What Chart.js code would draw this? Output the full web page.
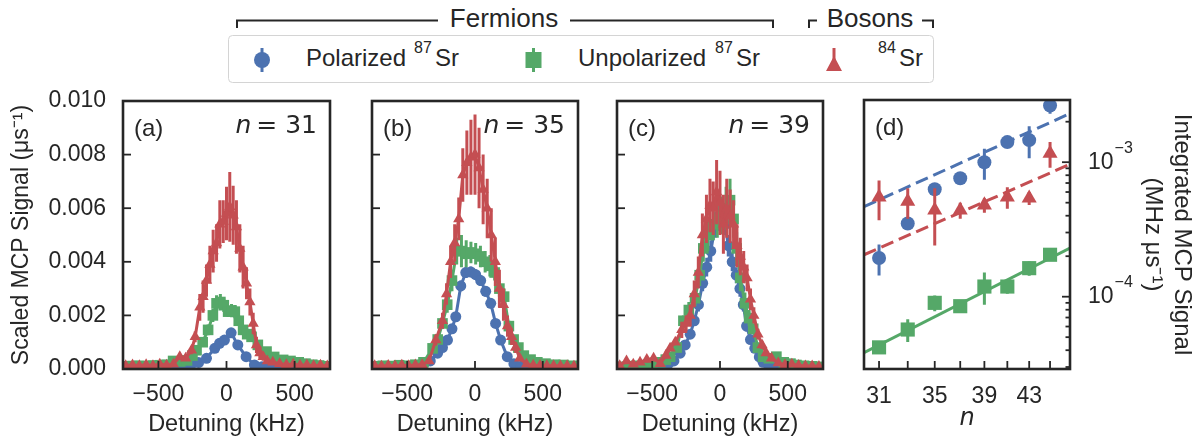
<!DOCTYPE html>
<html lang="en">
<head>
<meta charset="UTF-8" />
<title>MCP signal vs detuning and n</title>
<script src="https://cdn.jsdelivr.net/npm/chart.js"></script>
<style>
  body { margin: 0; background: #fff; font-family: 'Liberation Sans', Arial, sans-serif; color: #262626; }
  #fig { position: relative; width: 1196px; height: 440px; overflow: hidden; }
  #fig canvas, #fig svg { position: absolute; }
</style>
</head>
<body>
<div id="fig">
  <svg id="legend" width="1196" height="90" style="left:0;top:0" font-family="'Liberation Sans', Arial, sans-serif" fill="#262626">
    <path d="M237 28V20.5H438M570 20.5H773V28M809 28V20.5H817M922 20.5H933V28" stroke="#262626" stroke-width="2" fill="none"/>
    <text x="504" y="27" font-size="26" text-anchor="middle">Fermions</text>
    <text x="870" y="27" font-size="26" text-anchor="middle">Bosons</text>
    <rect x="228.5" y="35.5" width="705" height="47" rx="4" fill="#fff" stroke="#d4d4d4"/>
    <line x1="262" y1="48" x2="262" y2="72" stroke="#4c72b0" stroke-width="3"/>
    <circle cx="262" cy="60" r="8" fill="#4c72b0"/>
    <text font-size="24" y="66"><tspan x="306">Polarized</tspan><tspan x="414" y="53" font-size="16">87</tspan><tspan x="435" y="66">Sr</tspan></text>
    <line x1="533.5" y1="48" x2="533.5" y2="72" stroke="#55a868" stroke-width="3"/>
    <rect x="525.5" y="52" width="16" height="16" fill="#55a868"/>
    <text font-size="24" y="66"><tspan x="578">Unpolarized</tspan><tspan x="715" y="53" font-size="16">87</tspan><tspan x="736" y="66">Sr</tspan></text>
    <line x1="834" y1="48" x2="834" y2="71" stroke="#c44e52" stroke-width="3"/>
    <polygon points="834,56 842,71 826,71" fill="#c44e52"/>
    <text font-size="24" y="66"><tspan x="878" y="53" font-size="16">84</tspan><tspan x="899" y="66">Sr</tspan></text>
  </svg>
  <canvas id="panelA" width="340" height="350" style="left:0;top:90px"></canvas>
  <canvas id="panelB" width="245" height="350" style="left:345px;top:90px"></canvas>
  <canvas id="panelC" width="245" height="350" style="left:590px;top:90px"></canvas>
  <canvas id="panelD" width="356" height="350" style="left:840px;top:90px"></canvas>
</div>

<script>
  // ---- axes ----
  const X_MIN = -760, X_MAX = 760;
  const X_TICKS = [-500, 0, 500];
  const Y_TICKS = [0, 0.002, 0.004, 0.006, 0.008, 0.010];
  const D_N_TICKS = [31, 33, 35, 37, 39, 41, 43, 45];
  const D_N_LABELED = [31, 35, 39, 43];
  const D_Y_MAJOR = [1e-4, 1e-3];
  const D_Y_MINOR = [3e-5, 4e-5, 5e-5, 6e-5, 7e-5, 8e-5, 9e-5, 2e-4, 3e-4, 4e-4, 5e-4, 6e-4, 7e-4, 8e-4, 9e-4, 2e-3];

  // ---- (a) n = 31 ----
  const A_BLUE_X = [-740,-680,-620,-560,-500,-440,-380,-320,-260,-205,-147,-86,-51,-15,34,83,144,205,260,320,380,440,500,560,620,680,740];
  const A_BLUE_Y = [0.00004,0.00004,0.00005,0.00005,0.00006,0.00006,0.00008,0.0001,0.00015,0.00024,0.0004,0.00077,0.00096,0.00108,0.00135,0.0009,0.00046,0.00015,0.00008,0.00006,0.00005,0.00005,0.00004,0.00004,0.00004,0.00003,0.00003];
  const A_BLUE_E = [0.00003,0.00003,0.00003,0.00003,0.00003,0.00003,0.00003,0.00004,0.00005,0.00006,0.00008,0.0001,0.00012,0.00012,0.00014,0.00012,0.0001,0.00006,0.00004,0.00003,0.00003,0.00003,0.00003,0.00003,0.00003,0.00003,0.00003];

  const A_GREEN_X = [-740,-690,-640,-590,-540,-490,-440,-392,-340,-290,-250,-220,-175,-135,-100,-73,-45,-20,12,37,61,90,122,152,184,230,294,350,416,470,530,580,630,680,730];
  const A_GREEN_Y = [0.00010,0.00011,0.00012,0.00010,0.00013,0.00014,0.00016,0.00030,0.00028,0.00032,0.00050,0.00070,0.00100,0.00146,0.00200,0.00245,0.00250,0.00238,0.00214,0.00218,0.00214,0.00180,0.00146,0.00130,0.00120,0.00090,0.00065,0.00045,0.00034,0.00030,0.00025,0.00020,0.00016,0.00013,0.00010];
  const A_GREEN_E = [0.00005,0.00005,0.00005,0.00005,0.00005,0.00005,0.00005,0.00008,0.00008,0.00008,0.0001,0.00012,0.00015,0.0002,0.00025,0.0003,0.0003,0.00025,0.0002,0.00025,0.00025,0.0002,0.00018,0.00015,0.00015,0.00012,0.0001,0.00008,0.00008,0.00006,0.00005,0.00005,0.00005,0.00005,0.00005];

  const A_RED_X = [-740,-690,-640,-590,-540,-490,-440,-390,-343,-300,-257,-230,-196,-172,-147,-122,-98,-73,-49,-24,0,24,49,73,98,122,147,172,196,220,245,269,300,340,390,440,490,540,590,640,690,740];
  const A_RED_Y = [0.00012,0.00015,0.00012,0.00016,0.00012,0.00018,0.00014,0.00018,0.00046,0.00040,0.00070,0.00120,0.00230,0.00270,0.00330,0.00390,0.00440,0.00470,0.00540,0.00550,0.00580,0.00605,0.00574,0.00530,0.00450,0.00380,0.00320,0.00250,0.00170,0.00090,0.00060,0.00046,0.00030,0.00025,0.00020,0.00016,0.00018,0.00014,0.00015,0.00012,0.00014,0.00011];
  const A_RED_E = [0.00006,0.00006,0.00006,0.00006,0.00006,0.00006,0.00006,0.00006,0.0001,0.0001,0.00015,0.0002,0.0005,0.0006,0.0006,0.0007,0.0008,0.0007,0.0009,0.0008,0.0010,0.0013,0.0011,0.0010,0.0009,0.0008,0.0006,0.0005,0.0004,0.0003,0.0002,0.00015,0.0001,0.00008,0.00006,0.00006,0.00006,0.00006,0.00006,0.00006,0.00006,0.00006];

  // ---- (b) n = 35 ----
  const B_BLUE_X = [-740,-680,-620,-560,-500,-440,-380,-330,-276,-240,-203,-170,-142,-105,-68,-31,5,42,79,116,152,189,238,287,340,400,460,520,580,640,700,740];
  const B_BLUE_Y = [0.00005,0.00006,0.00007,0.00008,0.00010,0.00012,0.00018,0.00030,0.00059,0.00080,0.00108,0.00150,0.00195,0.00310,0.00360,0.00362,0.00352,0.00330,0.00290,0.00245,0.00170,0.00108,0.00046,0.00020,0.00010,0.00008,0.00006,0.00005,0.00005,0.00004,0.00004,0.00004];
  const B_BLUE_E = [0.00003,0.00003,0.00003,0.00003,0.00003,0.00003,0.00004,0.00005,0.00008,0.0001,0.00012,0.00015,0.00018,0.0002,0.0002,0.0002,0.0002,0.0002,0.0002,0.00018,0.00015,0.00012,0.00008,0.00005,0.00004,0.00003,0.00003,0.00003,0.00003,0.00003,0.00003,0.00003];

  const B_GREEN_X = [-740,-680,-620,-560,-500,-440,-380,-313,-275,-240,-205,-170,-135,-100,-65,-30,5,40,75,110,145,180,215,250,285,320,360,410,460,520,590,654,720];
  const B_GREEN_Y = [0.00010,0.00012,0.00011,0.00014,0.00012,0.00016,0.00025,0.00077,0.00110,0.00170,0.00240,0.00330,0.00440,0.00440,0.00430,0.00435,0.00430,0.00420,0.00400,0.00385,0.00360,0.00300,0.00270,0.00160,0.00110,0.00080,0.00050,0.00035,0.00025,0.00020,0.00016,0.00015,0.00012];
  const B_GREEN_E = [0.00005,0.00005,0.00005,0.00005,0.00005,0.00005,0.00006,0.0001,0.00015,0.0002,0.0003,0.0004,0.0005,0.0006,0.0005,0.0004,0.0004,0.0004,0.0004,0.0004,0.0003,0.0003,0.0003,0.0002,0.00015,0.00012,0.0001,0.00008,0.00006,0.00005,0.00005,0.00005,0.00005];

  const B_RED_X = [-740,-690,-640,-590,-540,-490,-440,-390,-340,-289,-240,-210,-180,-150,-120,-90,-60,-30,0,30,60,90,120,150,180,210,240,270,300,330,380,430,480,530,580,630,680,730];
  const B_RED_Y = [0.00012,0.00010,0.00013,0.00011,0.00014,0.00012,0.00015,0.00016,0.00030,0.00108,0.00180,0.00280,0.00400,0.00470,0.00560,0.00724,0.00770,0.00790,0.00800,0.00750,0.00670,0.00600,0.00500,0.00400,0.00300,0.00240,0.00160,0.00120,0.00080,0.00040,0.00018,0.00014,0.00013,0.00012,0.00012,0.00011,0.00012,0.00010];
  const B_RED_E = [0.00006,0.00006,0.00006,0.00006,0.00006,0.00006,0.00006,0.00006,0.0001,0.0002,0.0003,0.0004,0.0006,0.0007,0.0008,0.0010,0.0012,0.0014,0.0015,0.0015,0.0013,0.0011,0.0010,0.0009,0.0007,0.0006,0.0004,0.0003,0.0002,0.0001,0.00006,0.00006,0.00006,0.00006,0.00006,0.00006,0.00006,0.00006];

  // ---- (c) n = 39 ----
  const C_BLUE_X = [-740,-680,-620,-560,-500,-440,-380,-340,-294,-257,-220,-190,-159,-128,-98,-68,-37,-12,12,37,61,90,120,147,172,196,225,257,290,318,360,420,480,540,600,660,720];
  const C_BLUE_Y = [0.00004,0.00005,0.00006,0.00007,0.00009,0.00012,0.00020,0.00030,0.00059,0.00090,0.00130,0.00180,0.00240,0.00320,0.00380,0.00440,0.00530,0.00570,0.00600,0.00540,0.00460,0.00400,0.00350,0.00300,0.00240,0.00160,0.00110,0.00077,0.00045,0.00025,0.00012,0.00008,0.00006,0.00005,0.00004,0.00004,0.00003];
  const C_BLUE_E = [0.00003,0.00003,0.00003,0.00003,0.00003,0.00003,0.00004,0.00005,0.00008,0.0001,0.00015,0.0002,0.00025,0.0003,0.00035,0.0004,0.0004,0.0004,0.0004,0.0004,0.0004,0.00035,0.0003,0.0003,0.00025,0.0002,0.00015,0.0001,0.00008,0.00005,0.00004,0.00003,0.00003,0.00003,0.00003,0.00003,0.00003];

  const C_GREEN_X = [-740,-680,-620,-560,-500,-441,-400,-368,-320,-270,-230,-184,-150,-123,-90,-49,-20,12,45,74,100,123,150,184,215,245,280,318,360,416,470,520,564,620,680,730];
  const C_GREEN_Y = [0.00008,0.00010,0.00012,0.00014,0.00016,0.00025,0.00035,0.00046,0.00080,0.00180,0.00220,0.00264,0.00350,0.00450,0.00500,0.00540,0.00560,0.00574,0.00600,0.00630,0.00560,0.00450,0.00340,0.00245,0.00190,0.00150,0.00080,0.00046,0.00040,0.00046,0.00025,0.00020,0.00015,0.00012,0.00010,0.00008];
  const C_GREEN_E = [0.00005,0.00005,0.00005,0.00005,0.00005,0.00005,0.00008,0.0001,0.00012,0.0002,0.0003,0.0003,0.0004,0.0005,0.0006,0.0006,0.0007,0.0007,0.0008,0.0008,0.0007,0.0006,0.0005,0.0004,0.0003,0.0002,0.00015,0.0001,0.0001,0.0001,0.00008,0.00006,0.00005,0.00005,0.00005,0.00005];

  const C_RED_X = [-740,-690,-640,-590,-540,-490,-441,-400,-368,-330,-282,-250,-220,-190,-160,-130,-100,-74,-50,-25,0,25,50,75,100,125,150,175,200,225,250,280,310,340,380,430,480,530,580,630,680,730];
  const C_RED_Y = [0.00012,0.00030,0.00018,0.00025,0.00035,0.00040,0.00020,0.00050,0.00077,0.00100,0.00146,0.00170,0.00200,0.00280,0.00360,0.00500,0.00560,0.00610,0.00600,0.00660,0.00620,0.00540,0.00600,0.00570,0.00540,0.00460,0.00420,0.00380,0.00340,0.00260,0.00200,0.00130,0.00090,0.00060,0.00040,0.00022,0.00016,0.00018,0.00013,0.00011,0.00011,0.00009];
  const C_RED_E = [0.0001,0.0001,0.0001,0.0001,0.0001,0.0001,0.0001,0.0001,0.0001,0.0001,0.0003,0.0003,0.0004,0.0005,0.0006,0.0008,0.0009,0.0010,0.0010,0.0012,0.0012,0.0011,0.0011,0.0010,0.0009,0.0008,0.0007,0.0006,0.0005,0.0004,0.0003,0.0002,0.00015,0.0001,0.00008,0.00008,0.00008,0.00008,0.00008,0.00008,0.00008,0.00008];

  // ---- (d) integrated signal vs n ----
  const D_N = [31, 33, 35, 37, 39, 41, 43, 45];
  const D_BLUE = [1.94e-4, 3.5e-4, 6.3e-4, 7.6e-4, 1.0e-3, 1.41e-3, 1.46e-3, 2.64e-3];
  const D_BLUE_E = [5e-5, 3e-5, 4e-5, 4e-5, 2.6e-4, 8e-5, 3.9e-4, 3.5e-4];
  const D_GREEN = [4.2e-5, 5.7e-5, 9.0e-5, 8.5e-5, 1.19e-4, 1.19e-4, 1.63e-4, 2.05e-4];
  const D_GREEN_E = [3e-6, 1.1e-5, 1.2e-5, 5e-6, 3.2e-5, 1.4e-5, 2e-5, 1.5e-5];
  const D_RED = [5.5e-4, 5.1e-4, 4.4e-4, 4.4e-4, 4.8e-4, 5.5e-4, 5.4e-4, 1.16e-3];
  const D_RED_E = [1.8e-4, 1.3e-4, 2.0e-4, 0.6e-4, 0.6e-4, 1.0e-4, 0.6e-4, 2.5e-4];
  const FIT_N = [30, 47];
  const FIT_BLUE = [4.67e-4, 2.3e-3];
  const FIT_RED = [2.05e-4, 9.66e-4];
  const FIT_GREEN = [3.83e-5, 2.3e-4];

  const BLUE = '#4c72b0', GREEN = '#55a868', RED = '#c44e52';
  const INK = '#262626';
  const FONT = '"Liberation Sans", Arial, sans-serif';

  Chart.defaults.color = INK;
  Chart.defaults.font.family = FONT;

  const noGrid = { display: false, drawTicks: false };

  function setTicks(major, minor = []) {
    return scale => {
      scale.ticks = major.map(v => ({ value: v }))
        .concat(minor.map(v => ({ value: v, minor: true })))
        .sort((p, q) => p.value - q.value);
    };
  }

  function pts(xs, ys) {
    return xs.map((x, i) => ({ x, y: ys[i] }));
  }

  // vertical error bars, drawn just under each dataset's own line and markers
  const errorBars = {
    id: 'errorBars',
    beforeDatasetDraw(chart, args) {
      const ds = chart.data.datasets[args.index];
      if (!ds.errs) return;
      const { ctx, chartArea: a } = chart;
      const ys = chart.scales.y;
      ctx.save();
      ctx.beginPath();
      ctx.rect(a.left, a.top, a.right - a.left, a.bottom - a.top);
      ctx.clip();
      ctx.strokeStyle = ds.borderColor;
      ctx.lineWidth = 3;
      ctx.beginPath();
      args.meta.data.forEach((pt, i) => {
        const v = ds.data[i].y, e = ds.errs[i];
        ctx.moveTo(pt.x, ys.getPixelForValue(Math.max(v - e, ys.min)));
        ctx.lineTo(pt.x, ys.getPixelForValue(v + e));
      });
      ctx.stroke();
      ctx.restore();
    }
  };

  // spines, inward ticks and panel labels
  const frame = {
    id: 'frame',
    afterDraw(chart, args, opts) {
      const { ctx, chartArea: a } = chart;
      ctx.save();
      ctx.strokeStyle = INK;
      ctx.lineWidth = 1.8;
      Object.values(chart.scales).forEach(s => {
        s.ticks.forEach(t => {
          const len = t.minor ? 4.5 : 8;
          const p = s.getPixelForValue(t.value);
          ctx.beginPath();
          if (s.axis === 'x') { ctx.moveTo(p, a.bottom); ctx.lineTo(p, a.bottom - len); }
          else if (s.position === 'right') { ctx.moveTo(a.right, p); ctx.lineTo(a.right - len, p); }
          else { ctx.moveTo(a.left, p); ctx.lineTo(a.left + len, p); }
          ctx.stroke();
        });
      });
      ctx.lineWidth = 2.6;
      ctx.strokeRect(a.left, a.top, a.right - a.left, a.bottom - a.top);

      ctx.fillStyle = INK;
      ctx.textBaseline = 'alphabetic';
      if (opts.tag) {
        ctx.font = '24px ' + FONT;
        ctx.textAlign = 'left';
        ctx.fillText(opts.tag, a.left + 11, a.top + 35);
      }
      if (opts.n) {
        const rest = '= ' + opts.n;
        ctx.font = '25px "DejaVu Sans"';
        ctx.textAlign = 'right';
        ctx.fillText(rest, a.right - 13, a.top + 32);
        const w = ctx.measureText(rest).width;
        ctx.font = 'italic 25px "DejaVu Sans"';
        ctx.fillText('n', a.right - 13 - w - 5, a.top + 32);
      }
      if (opts.powers) {
        const ys = chart.scales.y;
        ys.ticks.filter(t => !t.minor).forEach(t => {
          const p = ys.getPixelForValue(t.value);
          const exp = Math.round(Math.log10(t.value));
          const x0 = a.right + 18;
          ctx.textAlign = 'left';
          ctx.font = '23px ' + FONT;
          ctx.fillText('10', x0, p + 6.5);
          const w = ctx.measureText('10').width;
          ctx.font = '16px ' + FONT;
          ctx.fillText((exp < 0 ? '\u2212' : '') + Math.abs(exp), x0 + w + 1, p - 9.5);
        });
      }
      ctx.restore();
    }
  };

  function series(xs, ys, es, color, style, r, order) {
    return {
      data: pts(xs, ys), errs: es, showLine: true,
      borderColor: color, backgroundColor: color, borderWidth: 3,
      pointStyle: style, pointRadius: r, pointHoverRadius: r, pointBorderWidth: 0,
      order: order
    };
  }

  function spectrumChart(id, datasets, tag, n, padLeft, padRight, yWidth, yLabels) {
    return new Chart(document.getElementById(id), {
      type: 'scatter',
      data: { datasets },
      options: {
        responsive: false, animation: false, devicePixelRatio: 1,
        layout: { padding: { left: padLeft, right: padRight, top: 11, bottom: 0 } },
        plugins: { legend: { display: false }, tooltip: { enabled: false }, frame: { tag, n } },
        scales: {
          x: {
            type: 'linear', min: X_MIN, max: X_MAX,
            grid: noGrid, border: { display: false },
            afterBuildTicks: setTicks(X_TICKS),
            afterFit: s => { s.height = 71; s.paddingLeft = 0; s.paddingRight = 0; },
            ticks: { font: { size: 23 }, padding: 12, autoSkip: false, maxRotation: 0,
                     callback: v => (v < 0 ? '\u2212' : '') + Math.abs(v) },
            title: { display: true, text: 'Detuning (kHz)', font: { size: 23.5, lineHeight: 1 },
                     padding: { top: 0, bottom: 4 } }
          },
          y: {
            type: 'linear', min: 0, max: 0.010,
            grid: noGrid, border: { display: false },
            afterBuildTicks: setTicks(Y_TICKS),
            afterFit: s => { s.width = yWidth; s.paddingTop = 0; s.paddingBottom = 0; },
            ticks: { display: yLabels, font: { size: 23 }, padding: 17, autoSkip: false,
                     callback: v => v.toFixed(3) },
            title: { display: yLabels, text: 'Scaled MCP Signal (\u03bcs\u207b\u00b9)',
                     font: { size: 23, lineHeight: 1 }, padding: { top: 10, bottom: 0 } }
          }
        }
      },
      plugins: [errorBars, frame]
    });
  }

  spectrumChart('panelA', [
    series(A_BLUE_X, A_BLUE_Y, A_BLUE_E, BLUE, 'circle', 5.5, 3),
    series(A_GREEN_X, A_GREEN_Y, A_GREEN_E, GREEN, 'rect', 7.5, 2),
    series(A_RED_X, A_RED_Y, A_RED_E, RED, 'triangle', 6.5, 1)
  ], '(a)', '31', 0, 10, 123, true);

  spectrumChart('panelB', [
    series(B_BLUE_X, B_BLUE_Y, B_BLUE_E, BLUE, 'circle', 5.5, 3),
    series(B_GREEN_X, B_GREEN_Y, B_GREEN_E, GREEN, 'rect', 7.5, 2),
    series(B_RED_X, B_RED_Y, B_RED_E, RED, 'triangle', 6.5, 1)
  ], '(b)', '35', 27, 12, 0, false);

  spectrumChart('panelC', [
    series(C_BLUE_X, C_BLUE_Y, C_BLUE_E, BLUE, 'circle', 5.5, 3),
    series(C_GREEN_X, C_GREEN_Y, C_GREEN_E, GREEN, 'rect', 7.5, 2),
    series(C_RED_X, C_RED_Y, C_RED_E, RED, 'triangle', 6.5, 1)
  ], '(c)', '39', 27, 12, 0, false);

  function fitLine(ys, color, dash, order) {
    return {
      data: pts(FIT_N, ys), showLine: true, borderColor: color, backgroundColor: color,
      borderWidth: 3, borderDash: dash, pointRadius: 0, order: order
    };
  }

  function nPoints(ys, es, color, style, r, order) {
    return {
      data: pts(D_N, ys), errs: es, showLine: false,
      borderColor: color, backgroundColor: color,
      pointStyle: style, pointRadius: r, pointHoverRadius: r, pointBorderWidth: 0, order: order
    };
  }

  new Chart(document.getElementById('panelD'), {
    type: 'scatter',
    data: {
      datasets: [
        fitLine(FIT_BLUE, BLUE, [13, 6], 6),
        fitLine(FIT_RED, RED, [13, 6], 5),
        fitLine(FIT_GREEN, GREEN, [], 4),
        nPoints(D_BLUE, D_BLUE_E, BLUE, 'circle', 7, 3),
        nPoints(D_GREEN, D_GREEN_E, GREEN, 'rect', 10, 2),
        nPoints(D_RED, D_RED_E, RED, 'triangle', 8.7, 1)
      ]
    },
    options: {
      responsive: false, animation: false, devicePixelRatio: 1,
      layout: { padding: { left: 24, right: 0, top: 10, bottom: 0 } },
      plugins: { legend: { display: false }, tooltip: { enabled: false }, frame: { tag: '(d)', powers: true } },
      scales: {
        x: {
          type: 'logarithmic', min: 30, max: 47,
          grid: noGrid, border: { display: false },
          afterBuildTicks: setTicks(D_N_TICKS),
          afterFit: s => { s.height = 71; s.paddingLeft = 0; s.paddingRight = 0; },
          ticks: { font: { size: 23 }, padding: 14, autoSkip: false, maxRotation: 0,
                   callback: v => D_N_LABELED.includes(v) ? String(v) : '' },
          title: { display: true, text: 'n', font: { family: 'DejaVu Sans', style: 'italic', size: 24, lineHeight: 1 },
                   padding: { top: 0, bottom: 9 } }
        },
        y: {
          type: 'logarithmic', position: 'right', min: 2.9e-5, max: 2.9e-3,
          grid: noGrid, border: { display: false },
          afterBuildTicks: setTicks(D_Y_MAJOR, D_Y_MINOR),
          afterFit: s => { s.width = 126; s.paddingTop = 0; s.paddingBottom = 0; },
          ticks: { display: false },
          title: { display: true, text: ['Integrated MCP Signal', '(MHz \u03bcs\u207b\u00b9)'],
                   font: { size: 24 }, padding: { top: 0, bottom: 0 } }
        }
      }
    },
    plugins: [errorBars, frame]
  });
</script>
</body>
</html>
